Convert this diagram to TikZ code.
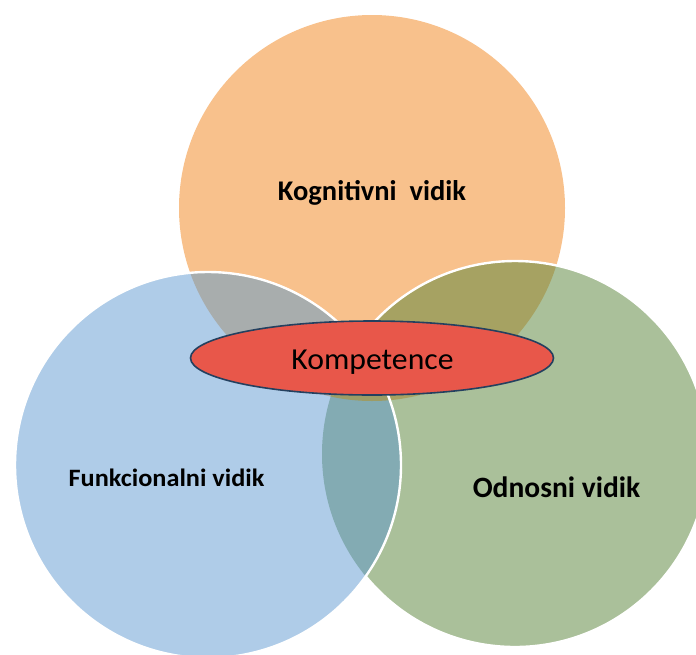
\documentclass[tikz,border=0pt]{standalone}
\usepackage{fontspec}
\setmainfont{Carlito}
\usetikzlibrary{shapes.geometric}
\definecolor{cOr}{HTML}{F8C18C}
\definecolor{cBl}{HTML}{AFCCE8}
\definecolor{cGr}{HTML}{AAC09A}
\definecolor{cGray}{HTML}{A8ADAD}
\definecolor{cOlive}{HTML}{A6A262}
\definecolor{cTeal}{HTML}{83ABB3}
\definecolor{cTri}{HTML}{9C9C66}
\definecolor{cRed}{HTML}{E8574A}
\definecolor{cNavy}{HTML}{24405F}
\tikzset{
  lbl/.style={text=black, inner sep=0pt, anchor=base},
  core/.style={ellipse, draw=cNavy, fill=cRed, line width=1.6pt, minimum width=363pt, minimum height=74pt, inner sep=0pt},
  rim/.style={draw=white, line width=2.4pt}
}
\begin{document}
\begin{tikzpicture}[x=1pt,y=-1pt]
\useasboundingbox (0,0) rectangle (696,654);
\clip (0,0) rectangle (696,654);
\coordinate (O) at (372,208);
\coordinate (B) at (208,465);
\coordinate (G) at (515,454);
\def\R{193pt}
\fill[cOr] (O) circle (\R);
\fill[cGr] (G) circle (\R);
\fill[cBl] (B) circle (\R);
\begin{scope}
  \clip (O) circle (\R);
  \fill[cGray] (B) circle (\R);
  \fill[cOlive] (G) circle (\R);
\end{scope}
\begin{scope}
  \clip (B) circle (\R);
  \fill[cTeal] (G) circle (\R);
\end{scope}
\begin{scope}
  \clip (B) circle (\R);
  \clip (G) circle (\R);
  \fill[cTri] (O) circle (\R);
\end{scope}
\begin{scope}[even odd rule]
  \clip (-20,-20) rectangle (720,680) (B) circle (\R);
  \draw[rim] (G) circle (\R);
\end{scope}
\draw[rim] (B) circle (\R);
\node[core] (K) at (372,358) {};
\node[lbl] (kt) at (372.5,369.5) {\fontsize{30.5}{34}\selectfont\scalebox{1.04}[1]{Kompetence}};
\node[lbl] (kog) at (372,200) {\fontsize{28.5}{32}\selectfont\bfseries Kognitivni\ \ vidik};
\node[lbl] (fun) at (166.5,486) {\fontsize{25}{30}\selectfont\bfseries\scalebox{1.05}[1]{Funkcionalni vidik}};
\node[lbl] (odn) at (556.5,497) {\fontsize{29.5}{34}\selectfont\bfseries Odnosni vidik};
\end{tikzpicture}
\end{document}
